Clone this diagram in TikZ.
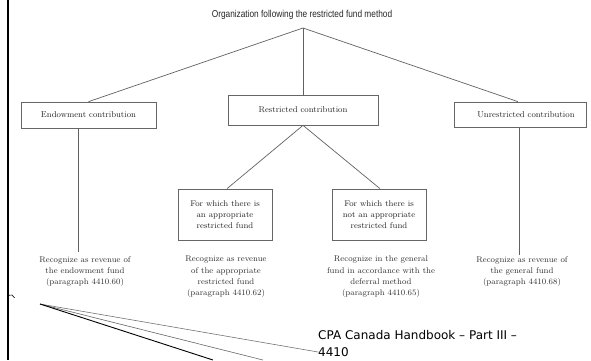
\documentclass[tikz,border=0pt]{standalone}
\usepackage{fontspec}
\newfontfamily\titlefont{Liberation Sans}
\newfontfamily\cpafont{DejaVu Sans}
\newcommand\labfont{\fontsize{8.3}{11.3}\selectfont}
\newcommand\boxfont{\fontsize{8.5}{10}\selectfont}
\begin{document}
\begin{tikzpicture}[x=1pt,y=-1pt,
  conn/.style={draw=black!62, line width=0.7pt},
  box/.style={draw=black!60, line width=0.7pt, inner sep=0pt, font=\boxfont, text=black!85},
  subbox/.style={box, align=center, font=\labfont},
  lab/.style={align=center, font=\labfont, text=black!80, inner sep=0pt}]
\useasboundingbox (0,0) rectangle (591,360);
\fill[black] (6.6,0) rectangle (8.6,360);

% title and apex
\node[inner sep=0pt, font=\titlefont\fontsize{10}{11}\selectfont, text=black!85] (title) at (302,15)
  {\scalebox{0.83}[1]{Organization following the restricted fund method}};
\coordinate (apex) at (303,28);

% first level boxes
\node[box, minimum width=135pt, minimum height=26pt] (endow) at (88.5,115) {Endowment contribution};
\node[box, minimum width=150pt, minimum height=30pt] (restr) at (303,110) {Restricted contribution};
\node[box, minimum width=132pt, minimum height=25pt] (unres) at (520,114.5) {\hspace*{12pt}Unrestricted contribution};

% second level boxes
\node[subbox, minimum width=94pt, minimum height=51pt] (appr) at (225,214.5)
  {For which there is\\an appropriate\\restricted fund};
\node[subbox, minimum width=94pt, minimum height=51pt] (notappr) at (379,214.5)
  {For which there is\\not an appropriate\\restricted fund};

% result labels
\node[lab] (lab1) at (85,271.5) {Recognize as revenue of\\the endowment fund\\(paragraph 4410.60)};
\node[lab] (lab2) at (226,277) {Recognize as revenue\\of the appropriate\\restricted fund\\(paragraph 4410.62)};
\node[lab] (lab3) at (381,277) {Recognize in the general\\fund in accordance with the\\deferral method\\(paragraph 4410.65)};
\node[lab] (lab4) at (522,271.5) {Recognize as revenue of\\the general fund\\(paragraph 4410.68)};

% connectors
\draw[conn] (apex) -- (endow.north);
\draw[conn] (apex) -- (restr.north);
\draw[conn] (apex) -- ([xshift=-2pt]unres.north);
\draw[conn] (restr.south) -- ([xshift=2pt]appr.north);
\draw[conn] (restr.south) -- ([xshift=1pt]notappr.north);
\draw[conn] (endow.south -| 78.3,0) -- (78.3,252);
\draw[conn] (unres.south -| 519,0) -- (519,255);

% footnote text
\node[anchor=north west, align=left, inner sep=0pt, font=\cpafont\fontsize{12}{17}\selectfont, text=black] (cpa) at (318,330.5)
  {CPA Canada Handbook – Part III –\\4410};

% pointer lines at bottom left
\coordinate (fan) at (40,304);
\coordinate (endA) at (318,352);
\coordinate (endB) at (263,360);
\coordinate (endC) at (213,360);
\draw[draw=black!55, line width=0.6pt] (fan) -- (endA);
\draw[draw=black!60, line width=0.6pt] (fan) -- (endB);
\draw[draw=black, line width=0.9pt] (fan) -- (endC);
\draw[black, line width=0.6pt] (8.6,295.3) -- (12,295) -- (14.7,298);
\end{tikzpicture}
\end{document}
